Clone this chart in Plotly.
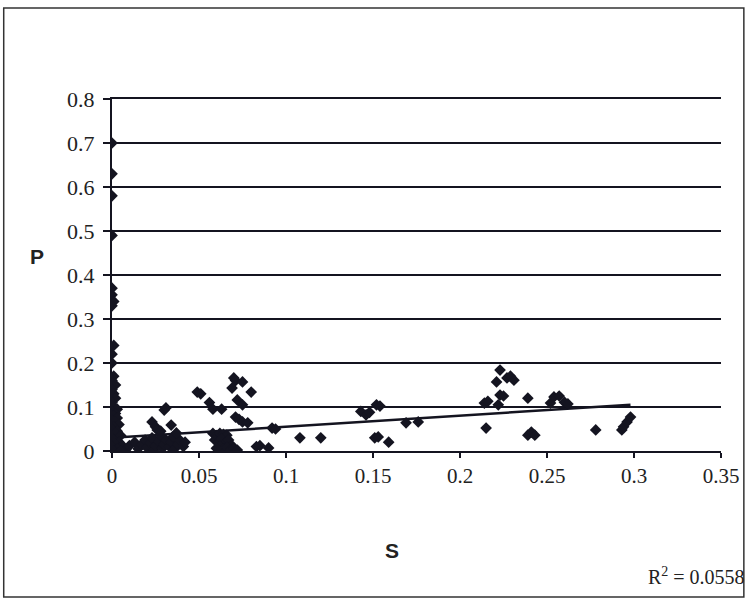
import plotly.graph_objects as go

# ---- data ----
s_values = [
    # column at S ~ 0
    0, 0, 0, 0, 0, 0, 0.001, 0, 0.001, 0, 0, 0.001, 0, 0.002, 0, 0.001, 0.002, 0,
    0.001, 0.003, 0, 0.002, 0.001, 0.003, 0, 0.002, 0.004, 0.001, 0, 0.003, 0.002,
    0.005, 0, 0.001, 0.004, 0.002, 0.006, 0, 0.003, 0.008, 0.001, 0.005,
    # low cluster 0.01-0.045
    0.010, 0.013, 0.015, 0.017, 0.019, 0.020, 0.022, 0.023, 0.024, 0.025, 0.027,
    0.028, 0.029, 0.030, 0.031, 0.033, 0.034, 0.035, 0.036, 0.038, 0.039, 0.041,
    0.042, 0.023, 0.025, 0.026, 0.028, 0.030, 0.031, 0.034, 0.037,
    # upper cluster 0.05-0.08
    0.049, 0.051, 0.056, 0.058, 0.063, 0.069, 0.070, 0.071, 0.075, 0.072, 0.075,
    0.080, 0.071, 0.073, 0.075, 0.078,
    # dense low cluster 0.058-0.072
    0.058, 0.060, 0.062, 0.064, 0.066, 0.059, 0.061, 0.063, 0.065, 0.067, 0.069,
    0.062, 0.064, 0.066, 0.068, 0.070, 0.072, 0.060,
    # middle
    0.083, 0.085, 0.090, 0.092, 0.094, 0.108, 0.120, 0.143, 0.146, 0.148, 0.152,
    0.154, 0.151, 0.153, 0.159, 0.169, 0.176,
    # right cluster
    0.215, 0.214, 0.216, 0.222, 0.223, 0.225, 0.221, 0.223, 0.227, 0.229, 0.231,
    0.239, 0.239, 0.241, 0.243, 0.252, 0.254, 0.257, 0.260, 0.262, 0.278, 0.293,
    0.294, 0.296, 0.298,
]
p_values = [
    0.70, 0.63, 0.58, 0.49, 0.37, 0.355, 0.34, 0.33, 0.24, 0.22, 0.20, 0.17, 0.16,
    0.15, 0.14, 0.13, 0.12, 0.11, 0.10, 0.095, 0.09, 0.085, 0.08, 0.075, 0.07,
    0.065, 0.06, 0.055, 0.05, 0.045, 0.04, 0.035, 0.03, 0.025, 0.02, 0.015, 0.012,
    0.01, 0.005, 0.003, 0.0, 0.0,
    0.012, 0.02, 0.005, 0.015, 0.025, 0.008, 0.018, 0.03, 0.002, 0.012, 0.022,
    0.035, 0.006, 0.015, 0.025, 0.01, 0.02, 0.032, 0.005, 0.015, 0.025, 0.01,
    0.02, 0.066, 0.055, 0.048, 0.045, 0.093, 0.098, 0.059, 0.041,
    0.134, 0.13, 0.11, 0.095, 0.095, 0.143, 0.166, 0.16, 0.157, 0.116, 0.105,
    0.134, 0.077, 0.072, 0.066, 0.064,
    0.04, 0.035, 0.04, 0.038, 0.036, 0.025, 0.02, 0.028, 0.018, 0.025, 0.012,
    0.01, 0.005, 0.008, 0.003, 0.006, 0.002, 0.006,
    0.01, 0.012, 0.007, 0.052, 0.05, 0.03, 0.03, 0.09, 0.082, 0.088, 0.105,
    0.102, 0.03, 0.032, 0.02, 0.064, 0.066,
    0.052, 0.109, 0.113, 0.105, 0.127, 0.125, 0.157, 0.184, 0.166, 0.17, 0.161,
    0.12, 0.036, 0.043, 0.036, 0.109, 0.123, 0.125, 0.111, 0.107, 0.048, 0.048,
    0.055, 0.066, 0.077,
]
trend_s = [0.0, 0.298]
trend_p = [0.03, 0.105]
x_ticks = [0, 0.05, 0.1, 0.15, 0.2, 0.25, 0.3, 0.35]
x_tick_labels = ["0", "0.05", "0.1", "0.15", "0.2", "0.25", "0.3", "0.35"]
y_ticks = [0, 0.1, 0.2, 0.3, 0.4, 0.5, 0.6, 0.7, 0.8]
y_tick_labels = ["0", "0.1", "0.2", "0.3", "0.4", "0.5", "0.6", "0.7", "0.8"]
r2_text = "R<sup>2</sup> = 0.0558"

INK = "#141420"
SERIF = "Liberation Serif, Times New Roman, serif"
SANS = "Liberation Sans, Arial, sans-serif"

fig = go.Figure()
fig.add_trace(go.Scatter(
    x=trend_s, y=trend_p, mode="lines",
    line=dict(color=INK, width=2.5), showlegend=False, hoverinfo="skip",
))
fig.add_trace(go.Scatter(
    x=s_values, y=p_values, mode="markers",
    marker=dict(symbol="diamond", size=9, color=INK),
    showlegend=False,
))

fig.update_xaxes(
    range=[0, 0.35], tickvals=x_ticks, ticktext=x_tick_labels,
    showgrid=False, zeroline=False, showline=True, linecolor=INK, linewidth=2,
    mirror=True,
    ticks="outside", ticklen=5, tickcolor=INK, tickwidth=1.5,
    tickfont=dict(family=SERIF, size=21, color="#222"),
)
fig.update_yaxes(
    range=[0, 0.8], tickvals=y_ticks, ticktext=y_tick_labels,
    showgrid=True, gridcolor=INK, gridwidth=2, zeroline=False,
    showline=True, linecolor=INK, linewidth=2,
    ticks="outside", ticklen=7, tickcolor=INK, tickwidth=2,
    ticklabelstandoff=4,
    tickfont=dict(family=SERIF, size=22, color="#222"),
)

fig.update_layout(
    width=751, height=601,
    margin=dict(l=112, r=26, t=99, b=150),
    paper_bgcolor="white", plot_bgcolor="white",
    shapes=[dict(
        type="rect", xref="paper", yref="paper",
        x0=(3 - 112) / 613, x1=(748 - 112) / 613,
        y0=(451 - 597) / 352, y1=(451 - 8) / 352,
        line=dict(color="#333", width=1.5), fillcolor="rgba(0,0,0,0)",
    )],
    annotations=[
        dict(text="<b>P</b>", xref="paper", yref="paper",
             x=(37 - 112) / 613, y=(451 - 256) / 352, showarrow=False,
             xanchor="center", yanchor="middle",
             font=dict(family=SANS, size=21, color="#222")),
        dict(text="<b>S</b>", xref="paper", yref="paper",
             x=(394 - 112) / 613, y=(451 - 550) / 352, showarrow=False,
             xanchor="center", yanchor="middle",
             font=dict(family=SANS, size=21, color="#222")),
        dict(text=r2_text, xref="paper", yref="paper",
             x=(700 - 112) / 613, y=(451 - 576) / 352, showarrow=False,
             xanchor="center", yanchor="middle",
             font=dict(family=SERIF, size=20, color="#222")),
    ],
)

fig.write_html(
    "out.html",
    config={"displayModeBar": False},
    post_script="document.body.style.margin='0px';document.body.style.overflow='hidden';",
)
